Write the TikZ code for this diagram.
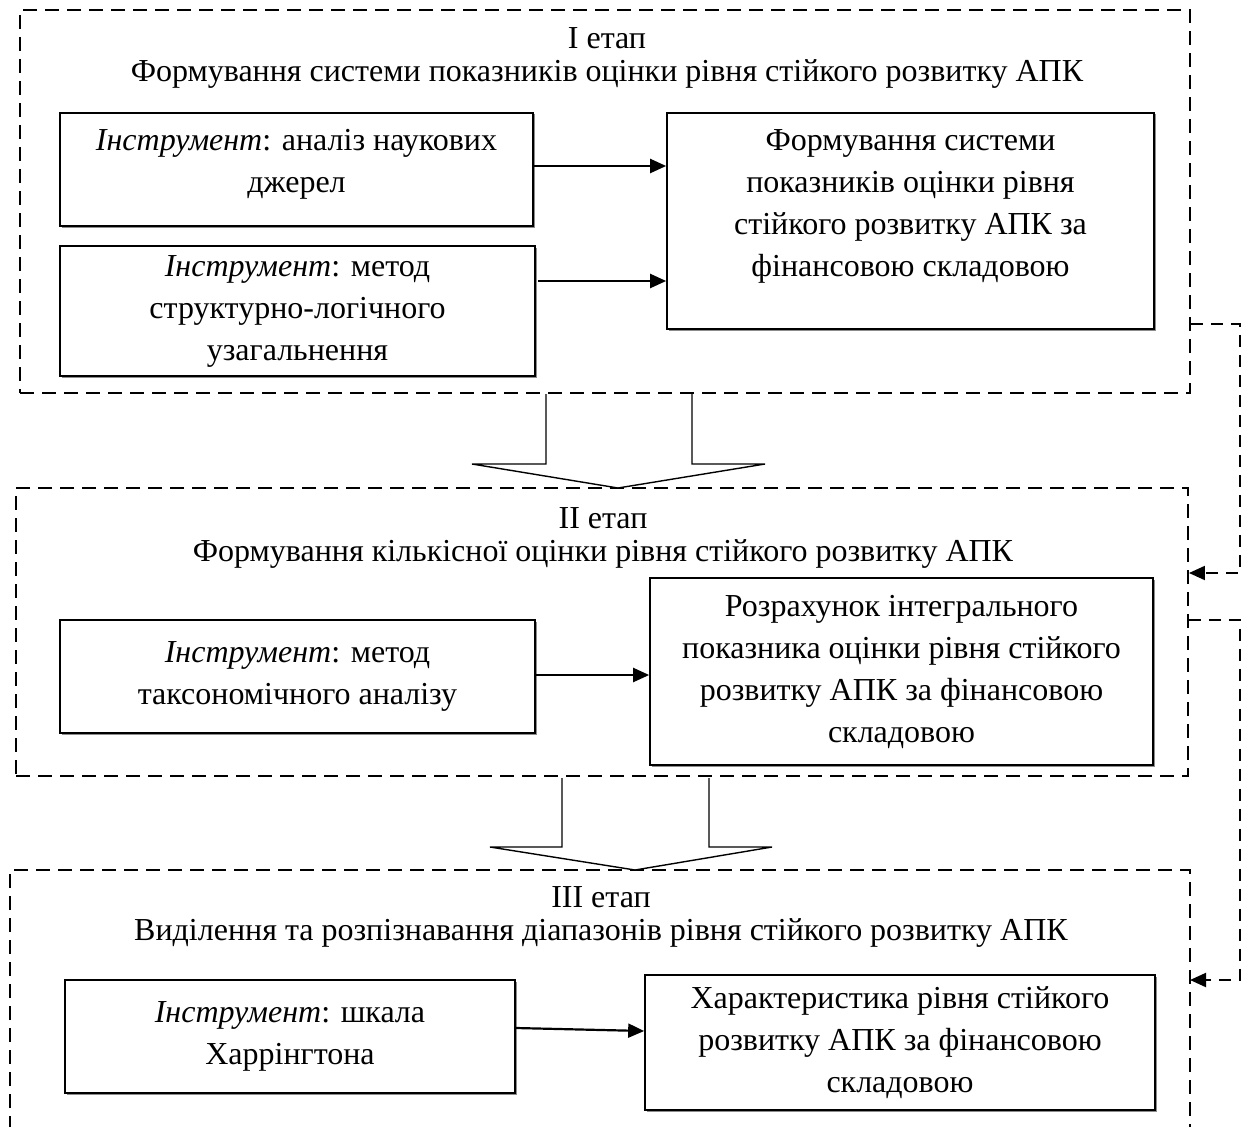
\documentclass[tikz,border=0pt]{standalone}
\usepackage{fontspec}
\setmainfont{Liberation Serif}
\usetikzlibrary{arrows.meta,shadows}
\begin{document}
\begin{tikzpicture}[x=1pt,y=-1pt,
  stagebox/.style={draw, line width=1.9pt, dash pattern=on 14pt off 8pt},
  toolbox/.style={draw, line width=1.7pt, fill=white, align=center, inner sep=0pt,
     font=\fontsize{32}{42}\selectfont,
     drop shadow={shadow xshift=1.5pt, shadow yshift=-1.5pt, fill=black!45, opacity=1}},
  boxtext/.style={align=center, inner sep=0pt, font=\fontsize{32}{42}\selectfont},
  ttl/.style={align=center, font=\fontsize{32}{33}\selectfont, inner sep=0pt},
  conn/.style={line width=2.2pt, -{Triangle[length=16pt,width=14pt]}},
  dconn/.style={line width=2pt, dash pattern=on 12pt off 8pt, -{Triangle[length=16pt,width=14pt]}},
  blockarrow/.style={draw, line width=1.4pt, fill=white, line join=miter}
]
\useasboundingbox (0,0) rectangle (1246,1126);

% Stage frames
\node[stagebox, minimum width=1170pt, minimum height=383pt, inner sep=0pt] (s1) at (605,201.5) {};
\node[stagebox, minimum width=1172pt, minimum height=288pt, inner sep=0pt] (s2) at (602,632) {};
\coordinate (s3bl) at (10,1130);
\coordinate (s3tl) at (10,870);
\coordinate (s3tr) at (1190,870);
\coordinate (s3br) at (1190,1130);
\draw[stagebox] (s3bl) -- (s3tl) -- (s3tr) -- (s3br);

% Titles
\node[ttl] (t1) at (607,58) {I етап\\Формування системи показників оцінки рівня стійкого розвитку АПК};
\node[ttl] (t2) at (603,538) {II етап\\Формування кількісної оцінки рівня стійкого розвитку АПК};
\node[ttl] (t3) at (601,917) {III етап\\Виділення та розпізнавання діапазонів рівня стійкого розвитку АПК};

% Stage I boxes
\node[toolbox, minimum width=473pt, minimum height=113pt] (b1) at (296.5,169.5) {};
\node[boxtext] (b1t) at (296.5,164) {\textit{Інструмент}: аналіз наукових\\джерел};
\node[toolbox, minimum width=475pt, minimum height=130pt] (b2) at (297.5,311)
  {\textit{Інструмент}: метод\\структурно-логічного\\узагальнення};
\node[toolbox, minimum width=487pt, minimum height=216pt] (b3) at (910.5,221) {};
\node[boxtext] (b3t) at (910.5,206)
  {Формування системи\\показників оцінки рівня\\стійкого розвитку АПК за\\фінансовою складовою};

% Stage II boxes
\node[toolbox, minimum width=475pt, minimum height=113pt] (b4) at (297.5,676.5)
  {\textit{Інструмент}: метод\\таксономічного аналізу};
\node[toolbox, minimum width=503pt, minimum height=187pt] (b5) at (901.5,671.5)
  {Розрахунок інтегрального\\показника оцінки рівня стійкого\\розвитку АПК за фінансовою\\складовою};

% Stage III boxes
\node[toolbox, minimum width=450pt, minimum height=113pt] (b6) at (290,1036.5)
  {\textit{Інструмент}: шкала\\Харрінгтона};
\node[toolbox, minimum width=510pt, minimum height=135pt] (b7) at (900,1042.5)
  {Характеристика рівня стійкого\\розвитку АПК за фінансовою\\складовою};

% Arrows between boxes
\draw[conn] (b1.east |- 0,166) -- (b3.west |- 0,166);
\draw[conn] ([xshift=2pt]b2.east |- 0,281) -- (b3.west |- 0,281);
\draw[conn] (b4.east |- 0,675) -- (b5.west |- 0,675);
\draw[conn] (b6.east |- 0,1028) -- (b7.west |- 0,1031);

% Dashed feedback connectors
\coordinate (d1a) at (1240,324);
\coordinate (d1b) at (1240,573);
\draw[dconn] (s1.east |- d1a) -- (d1a) -- (d1b) -- (s2.east |- d1b);
\coordinate (d2a) at (1240,620);
\coordinate (d2b) at (1240,980);
\draw[dconn] (s2.east |- d2a) -- (d2a) -- (d2b) -- (s3tr |- d2b);

% Block arrows
\draw[blockarrow] (546,394) -- (546,464) -- (472,464) -- (618,488) -- (765,464) -- (692,464) -- (692,394);
\draw[blockarrow] (562,778) -- (562,847) -- (490,847) -- (635,870) -- (772,847) -- (709,847) -- (709,778);
\end{tikzpicture}
\end{document}
